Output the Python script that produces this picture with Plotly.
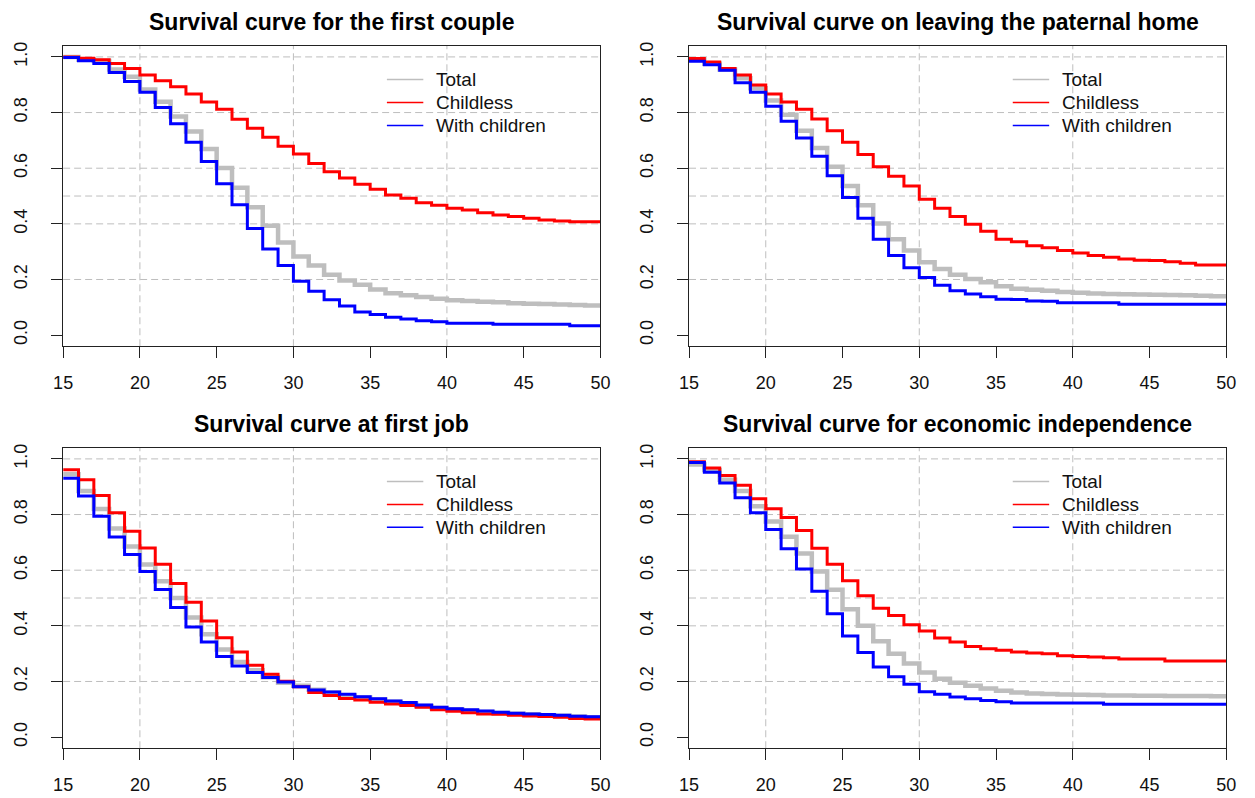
import plotly.graph_objects as go

AGES = list(range(15, 51))

TITLES = [
    "Survival curve for the first couple",
    "Survival curve on leaving the paternal home",
    "Survival curve at first job",
    "Survival curve for economic independence",
]
SERIES_NAMES = ["Total", "Childless", "With children"]

# Panel 1: first couple
couple_total = [1.0, 0.99, 0.985, 0.955, 0.929, 0.883, 0.839, 0.786, 0.732, 0.669, 0.601, 0.53,
                0.46, 0.393, 0.333, 0.283, 0.25, 0.217, 0.196, 0.181, 0.164, 0.151, 0.143, 0.137,
                0.131, 0.125, 0.123, 0.12, 0.118, 0.115, 0.113, 0.112, 0.11, 0.108, 0.107, 0.107]
couple_childless = [1.0, 0.995, 0.99, 0.976, 0.958, 0.935, 0.914, 0.893, 0.867, 0.838, 0.812, 0.776,
                    0.744, 0.711, 0.679, 0.651, 0.617, 0.587, 0.565, 0.542, 0.524, 0.504, 0.492, 0.476,
                    0.467, 0.456, 0.45, 0.44, 0.432, 0.426, 0.42, 0.414, 0.41, 0.408, 0.408, 0.408]
couple_children = [0.998, 0.986, 0.976, 0.944, 0.912, 0.873, 0.818, 0.76, 0.693, 0.624, 0.544, 0.469,
                   0.383, 0.31, 0.25, 0.194, 0.158, 0.127, 0.105, 0.083, 0.074, 0.064, 0.058, 0.052,
                   0.048, 0.043, 0.043, 0.043, 0.039, 0.039, 0.039, 0.039, 0.039, 0.034, 0.034, 0.034]

# Panel 2: leaving the paternal home
home_total = [0.99, 0.975, 0.955, 0.923, 0.887, 0.843, 0.792, 0.735, 0.673, 0.605, 0.536, 0.467,
              0.401, 0.345, 0.304, 0.262, 0.238, 0.217, 0.202, 0.19, 0.176, 0.167, 0.163, 0.16,
              0.155, 0.152, 0.15, 0.148, 0.147, 0.146, 0.145, 0.144, 0.143, 0.142, 0.14, 0.14]
home_childless = [0.994, 0.982, 0.958, 0.935, 0.899, 0.867, 0.838, 0.812, 0.777, 0.735, 0.693, 0.649,
                  0.605, 0.571, 0.536, 0.488, 0.456, 0.426, 0.399, 0.373, 0.345, 0.336, 0.321, 0.314,
                  0.304, 0.295, 0.286, 0.28, 0.274, 0.269, 0.268, 0.264, 0.258, 0.252, 0.252, 0.252]
home_children = [0.984, 0.972, 0.952, 0.907, 0.873, 0.823, 0.769, 0.709, 0.643, 0.573, 0.495, 0.42,
                 0.345, 0.286, 0.242, 0.207, 0.179, 0.16, 0.148, 0.138, 0.129, 0.128, 0.123, 0.122,
                 0.116, 0.116, 0.116, 0.116, 0.111, 0.111, 0.111, 0.111, 0.111, 0.111, 0.111, 0.111]

# Panel 3: first job
job_total = [0.945, 0.885, 0.82, 0.75, 0.685, 0.62, 0.56, 0.5, 0.43, 0.37, 0.315, 0.27,
             0.24, 0.215, 0.195, 0.185, 0.17, 0.16, 0.15, 0.142, 0.135, 0.127, 0.12, 0.112,
             0.105, 0.1, 0.095, 0.09, 0.087, 0.084, 0.082, 0.079, 0.077, 0.074, 0.071, 0.071]
job_childless = [0.961, 0.925, 0.868, 0.806, 0.74, 0.68, 0.621, 0.552, 0.485, 0.417, 0.357, 0.306,
                 0.258, 0.226, 0.201, 0.181, 0.16, 0.15, 0.139, 0.133, 0.125, 0.119, 0.114, 0.107,
                 0.098, 0.093, 0.088, 0.083, 0.082, 0.079, 0.076, 0.074, 0.071, 0.067, 0.065, 0.065]
job_children = [0.93, 0.867, 0.794, 0.719, 0.656, 0.595, 0.531, 0.466, 0.396, 0.342, 0.29, 0.256,
                0.232, 0.214, 0.198, 0.181, 0.169, 0.162, 0.154, 0.145, 0.138, 0.13, 0.124, 0.115,
                0.107, 0.102, 0.098, 0.094, 0.089, 0.086, 0.083, 0.081, 0.079, 0.075, 0.073, 0.073]

# Panel 4: economic independence
econ_total = [0.98, 0.96, 0.925, 0.885, 0.83, 0.775, 0.72, 0.66, 0.595, 0.53, 0.46, 0.4,
              0.345, 0.3, 0.265, 0.232, 0.21, 0.195, 0.185, 0.175, 0.167, 0.16, 0.157, 0.155,
              0.153, 0.152, 0.151, 0.15, 0.15, 0.149, 0.149, 0.148, 0.148, 0.148, 0.147, 0.147]
econ_childless = [0.99, 0.967, 0.94, 0.905, 0.857, 0.821, 0.789, 0.743, 0.679, 0.621, 0.562, 0.508,
                  0.463, 0.437, 0.404, 0.381, 0.356, 0.342, 0.326, 0.318, 0.312, 0.306, 0.302, 0.3,
                  0.292, 0.29, 0.288, 0.285, 0.281, 0.281, 0.281, 0.274, 0.274, 0.274, 0.274, 0.274]
econ_children = [0.987, 0.952, 0.913, 0.86, 0.806, 0.746, 0.677, 0.604, 0.524, 0.443, 0.363, 0.304,
                 0.252, 0.217, 0.19, 0.163, 0.154, 0.144, 0.138, 0.132, 0.127, 0.123, 0.123, 0.123,
                 0.123, 0.123, 0.123, 0.118, 0.118, 0.118, 0.118, 0.118, 0.118, 0.118, 0.118, 0.118]

PANELS = [
    (couple_total, couple_childless, couple_children),
    (home_total, home_childless, home_children),
    (job_total, job_childless, job_children),
    (econ_total, econ_childless, econ_children),
]

X_TICKS = [15, 20, 25, 30, 35, 40, 45, 50]
Y_TICKS = [0.0, 0.2, 0.4, 0.6, 0.8, 1.0]
GRID_X = [20, 30, 40]
GRID_Y = [0.2, 0.4, 0.5, 0.6, 0.8, 1.0]

COLORS = ["#BEBEBE", "#FF0000", "#0000FF"]
WIDTHS = [4.5, 3, 3]

W, H = 1255, 798
FONT = "Liberation Sans, Arial, sans-serif"

# pixel geometry of plot boxes (left, right, top, bottom)
BOXES = [(54, 600, 42, 344), (690, 1236, 42, 344),
         (54, 600, 446, 748), (690, 1236, 446, 748)]

fig = go.Figure()
layout = dict(
    width=W, height=H, margin=dict(l=0, r=0, t=0, b=0),
    paper_bgcolor="white", plot_bgcolor="white",
    font=dict(family=FONT, color="#111"),
    annotations=[], shapes=[], showlegend=False,
)

for i, (series, box) in enumerate(zip(PANELS, BOXES)):
    k = "" if i == 0 else str(i + 1)
    xa, ya = "x" + k, "y" + k
    l, r, t, b = box
    layout["xaxis" + k] = dict(
        domain=[l / W, r / W], anchor=ya, range=[15, 50],
        tickvals=X_TICKS, ticks="outside", ticklen=11, tickcolor="#222", tickwidth=1,
        showline=True, mirror=True, linecolor="#222", linewidth=1,
        showgrid=False, zeroline=False,
        tickfont=dict(size=18, family=FONT, color="#111"), ticklabelstandoff=9,
    )
    layout["yaxis" + k] = dict(
        domain=[1 - b / H, 1 - t / H], anchor=xa, range=[-0.04, 1.04],
        tickvals=Y_TICKS, tickformat=".1f", tickangle=-90,
        ticks="outside", ticklen=11, tickcolor="#222", tickwidth=1,
        showline=True, mirror=True, linecolor="#222", linewidth=1,
        showgrid=False, zeroline=False,
        tickfont=dict(size=18, family=FONT, color="#111"), ticklabelstandoff=17,
    )
    for gx in GRID_X:
        layout["shapes"].append(dict(type="line", xref=xa, yref=ya + " domain",
                                     x0=gx, x1=gx, y0=0, y1=1, layer="below",
                                     line=dict(color="#BEBEBE", width=1, dash="7px,4px")))
    for gy in GRID_Y:
        layout["shapes"].append(dict(type="line", xref=xa + " domain", yref=ya,
                                     x0=0, x1=1, y0=gy, y1=gy, layer="below",
                                     line=dict(color="#BEBEBE", width=1, dash="7px,4px")))
    layout["annotations"].append(dict(
        text="<b>" + TITLES[i] + "</b>", xref="paper", yref="paper",
        x=(l + r) / 2 / W, y=1 - (t - 24) / H, xanchor="center", yanchor="middle",
        showarrow=False, font=dict(size=23, family=FONT, color="#000")))
    # legend (line keys + labels), placed in the upper right of each panel
    for j, (name, col) in enumerate(zip(SERIES_NAMES, COLORS)):
        yy = 1 - (t + 34 + 23 * j) / H
        layout["shapes"].append(dict(type="line", xref="paper", yref="paper",
                                     x0=(l + 329) / W, x1=(l + 366) / W, y0=yy, y1=yy,
                                     line=dict(color=col, width=1.5)))
        layout["annotations"].append(dict(
            text=name, xref="paper", yref="paper", x=(l + 377) / W, y=yy,
            xanchor="left", yanchor="middle", showarrow=False,
            font=dict(size=19, family=FONT, color="#111")))
    for name, vals, col, wd in zip(SERIES_NAMES, series, COLORS, WIDTHS):
        fig.add_trace(go.Scatter(x=AGES, y=vals, mode="lines", name=name,
                                 line=dict(color=col, width=wd, shape="hv"),
                                 xaxis=xa, yaxis=ya, showlegend=False, hoverinfo="skip"))

fig.update_layout(**layout)
fig.write_html("out.html", config={"displayModeBar": False},
               post_script="document.body.style.margin='0px';")
